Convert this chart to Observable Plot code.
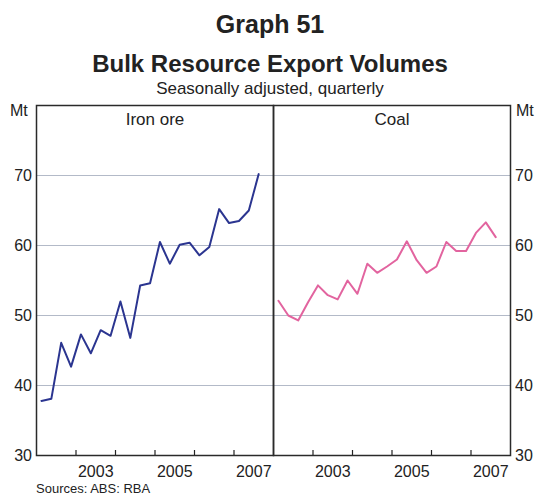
<!DOCTYPE html>
<html>
<head>
<meta charset="utf-8">
<script src="https://cdn.jsdelivr.net/npm/d3@7"></script>
<script src="https://cdn.jsdelivr.net/npm/@observablehq/plot@0.6"></script>
<style>
  html, body { margin: 0; padding: 0; background: #fff; }
  body { width: 540px; height: 497px; position: relative; overflow: hidden;
         font-family: "Liberation Sans", Arial, sans-serif; color: #222; }
  .t { position: absolute; left: 0; width: 540px; text-align: center; white-space: nowrap; }
  #title { top: 9px; height: 30px; line-height: 30px; font-size: 25px; font-weight: bold; }
  #subtitle { top: 50px; height: 28px; line-height: 28px; font-size: 24px; font-weight: bold; }
  #note { top: 79px; height: 20px; line-height: 20px; font-size: 17px; }
  .unit { position: absolute; top: 101px; height: 20px; line-height: 20px; font-size: 16px; }
  #unitL { left: 10px; }
  #unitR { left: 516px; }
  #chart { position: absolute; left: 0; top: 100px; }
  #source { position: absolute; left: 36px; top: 482px; height: 14px; line-height: 14px; font-size: 13px; }
</style>
</head>
<body>
<div id="title" class="t">Graph 51</div>
<div id="subtitle" class="t">Bulk Resource Export Volumes</div>
<div id="note" class="t">Seasonally adjusted, quarterly</div>
<div id="unitL" class="unit">Mt</div>
<div id="unitR" class="unit">Mt</div>
<div id="chart"></div>
<div id="source">Sources: ABS: RBA</div>
<script>
const panels = ["Iron ore", "Coal"];
const panelColors = ["#2b3590", "#e2649f"];
const quarters = [
  "2002 Q1","2002 Q2","2002 Q3","2002 Q4",
  "2003 Q1","2003 Q2","2003 Q3","2003 Q4",
  "2004 Q1","2004 Q2","2004 Q3","2004 Q4",
  "2005 Q1","2005 Q2","2005 Q3","2005 Q4",
  "2006 Q1","2006 Q2","2006 Q3","2006 Q4",
  "2007 Q1","2007 Q2","2007 Q3"
];
const ironOre = [37.8, 38.1, 46.1, 42.7, 47.3, 44.6, 47.9, 47.1, 52.0, 46.8, 54.3, 54.6,
                 60.5, 57.4, 60.1, 60.4, 58.6, 59.8, 65.2, 63.2, 63.5, 65.0, 70.2];
const coal = [52.1, 50.0, 49.3, 51.9, 54.3, 52.9, 52.3, 55.0, 53.1, 57.4, 56.1, 57.0,
              58.0, 60.6, 57.9, 56.1, 57.0, 60.5, 59.2, 59.2, 61.8, 63.3, 61.2];
const yTicks = [30, 40, 50, 60, 70];
const gridValues = [40, 50, 60, 70];
const yearTicks = [2003, 2004, 2005, 2006, 2007];
const xTickLabels = ["2003", "2005", "2007"];
const xDomain = [2002, 2008];
const yDomain = [30, 80];

function qToYear(s) {
  const [y, q] = s.split(" Q").map(Number);
  return y + (q - 0.5) / 4;
}
const series = [];
quarters.forEach((q, i) => series.push({panel: panels[0], date: qToYear(q), value: ironOre[i]}));
quarters.forEach((q, i) => series.push({panel: panels[1], date: qToYear(q), value: coal[i]}));

const labelPositions = xTickLabels.map(d => +d + 0.5);

const chart = Plot.plot({
  width: 540,
  height: 382,
  marginTop: 5,
  marginBottom: 27,
  marginLeft: 36,
  marginRight: 30,
  style: {fontFamily: "'Liberation Sans', Arial, sans-serif", fontSize: "16px", color: "#222", background: "transparent", overflow: "visible"},
  facet: {data: series, x: "panel"},
  fx: {domain: panels, axis: null, padding: 0, label: null},
  x: {domain: xDomain, ticks: labelPositions, tickFormat: d => String(Math.floor(d)), tickSize: 0, tickPadding: 10, label: null},
  y: {domain: yDomain, ticks: yTicks, axis: "both", tickSize: 0, tickPadding: 4.5, label: null},
  color: {domain: panels, range: panelColors},
  marks: [
    Plot.ruleY(gridValues, {y: d => d, stroke: "#b3bac8", strokeWidth: 1}),
    Plot.tickX(yearTicks, {x: d => d, insetTop: 345, stroke: "#222", strokeWidth: 1.2}),
    Plot.line(series, {x: "date", y: "value", stroke: "panel", strokeWidth: 2}),
    Plot.text(series, Plot.selectFirst({text: "panel", frameAnchor: "top", lineAnchor: "middle", dy: 14, fontSize: 17, fill: "#222"})),
    Plot.frame({stroke: "#2a2a2a", strokeWidth: 1.5})
  ]
});
document.getElementById("chart").appendChild(chart);
</script>
</body>
</html>
